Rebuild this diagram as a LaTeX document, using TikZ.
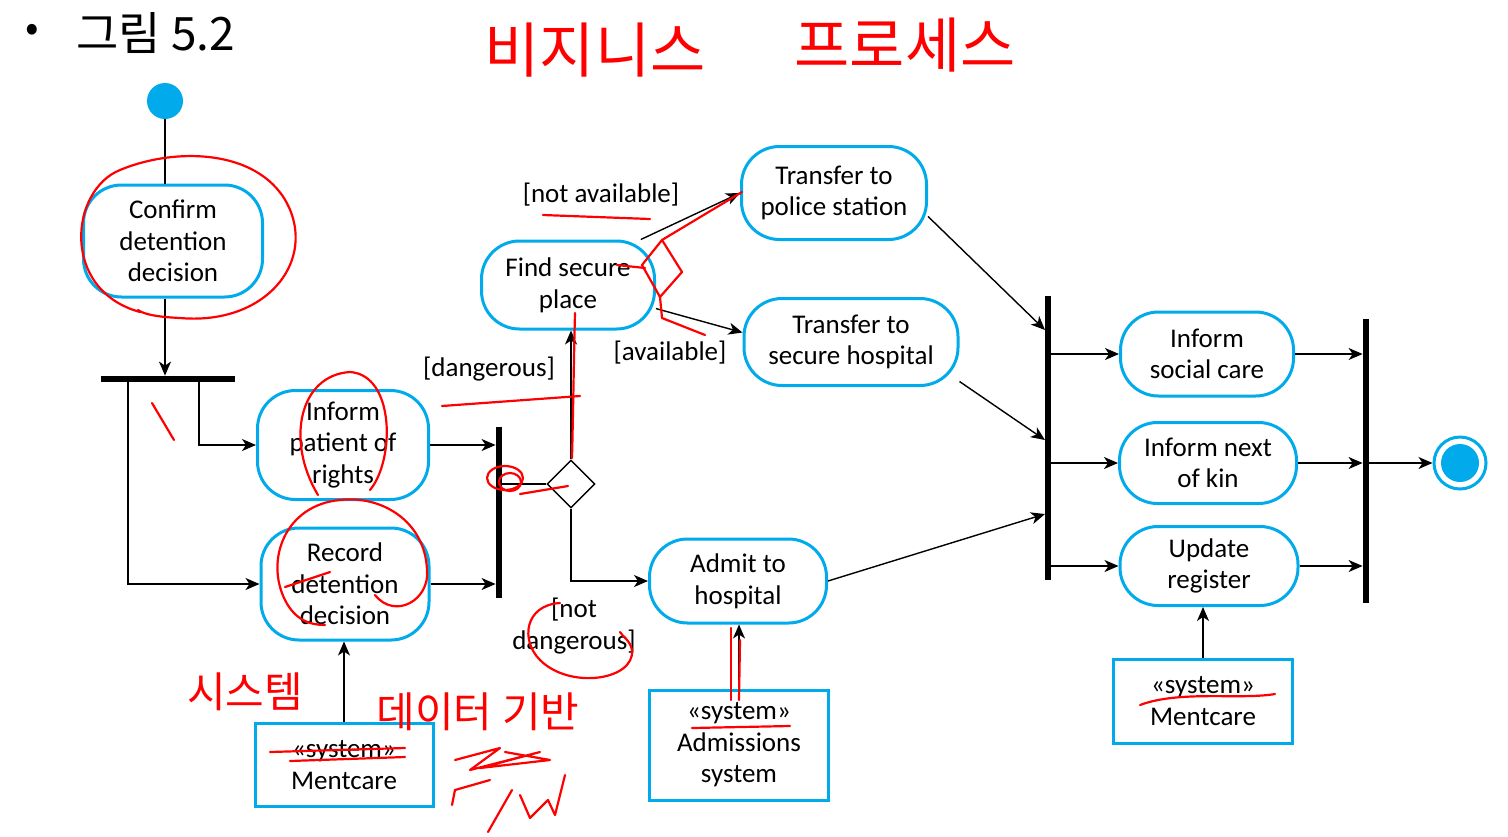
\documentclass[tikz,border=0pt]{standalone}
\usepackage{fontspec}
\usepackage{tikz}
\usetikzlibrary{arrows.meta,shapes.geometric}
\setmainfont{Carlito}
\newfontfamily\krfont{Noto Sans CJK KR}
\definecolor{umlblue}{RGB}{0,170,235}
\newcommand{\dfont}{\fontsize{13.5}{15.8}\selectfont}
\tikzset{
  act/.style={draw=umlblue,line width=1.5pt,rounded corners=19pt,align=center,
    inner sep=0pt,font=\dfont},
  sysbox/.style={draw=umlblue,line width=1.5pt,align=center,inner sep=0pt,font=\dfont},
  bar/.style={fill=black,inner sep=0pt},
  flow/.style={-{Stealth[length=7pt,width=6pt,inset=2pt]},line width=0.7pt},
  plain/.style={line width=0.7pt},
  guard/.style={inner sep=0pt,align=center,font=\dfont},
  pen/.style={red,line width=1.1pt,line cap=round,line join=round},
  hand/.style={red,inner sep=0pt,font=\krfont\fontsize{21}{24}\selectfont},
}
\begin{document}
\begin{tikzpicture}[x=.5pt,y=-.5pt]
\path[use as bounding box] (0,0) rectangle (1508,836);
\path[fill=white] (0,0) rectangle (1508,836);
% title
\node[inner sep=0pt,font=\krfont\fontsize{20}{24}\selectfont] (bullet) at (32,33) {•};
\node[inner sep=0pt,anchor=west,font=\krfont\fontsize{23}{27}\selectfont] (title) at (76,33) {그림 5.2};
% activities
\node[circle,fill=umlblue,inner sep=0pt,minimum size=18pt] (init) at (165,101) {};
\node[act,minimum width=89.5pt,minimum height=56pt] (confirm) at (173,241) {Confirm\\detention\\decision};
\node[bar,minimum width=67pt,minimum height=3pt] (fork) at (168,379) {};
\node[act,minimum width=85.5pt,minimum height=54.5pt] (inform) at (343,445) {Inform\\patient of\\rights};
\node[act,minimum width=84pt,minimum height=56pt] (record) at (345,584) {Record\\detention\\decision};
\node[sysbox,minimum width=89pt,minimum height=41.5pt] (ment1) at (344,765) {«system»\\Mentcare};
\node[bar,minimum width=3pt,minimum height=85.5pt] (join1) at (499,512) {};
\node[diamond,draw,line width=0.7pt,inner sep=0pt,minimum width=24pt,minimum height=24pt] (dec) at (571,484) {};
\node[act,minimum width=86.5pt,minimum height=44pt] (find) at (568,285) {Find secure\\place};
\node[act,minimum width=92.5pt,minimum height=46.5pt] (police) at (834,193) {Transfer to\\police station};
\node[act,minimum width=107pt,minimum height=43.5pt] (hosp) at (851,342) {Transfer to\\secure hospital};
\node[act,minimum width=88.5pt,minimum height=42pt] (admit) at (738,581) {Admit to\\hospital};
\node[sysbox,minimum width=89.5pt,minimum height=55pt] (adm) at (739,745) {«system»\\Admissions\\system};
\node[bar,minimum width=3pt,minimum height=142pt] (fork2) at (1048,438) {};
\node[act,minimum width=86.5pt,minimum height=42pt] (social) at (1207,354) {Inform\\social care};
\node[act,minimum width=88.5pt,minimum height=40.5pt] (kin) at (1208,463) {Inform next\\of kin};
\node[act,minimum width=89pt,minimum height=39.5pt] (update) at (1209,566) {Update\\register};
\node[sysbox,minimum width=89.5pt,minimum height=42pt] (ment2) at (1203,701) {«system»\\Mentcare};
\node[bar,minimum width=3pt,minimum height=142pt] (join2) at (1366,461) {};
\node[circle,draw=umlblue,line width=1.5pt,inner sep=0pt,minimum size=26pt] (final) at (1460,463) {};
\node[circle,fill=umlblue,inner sep=0pt,minimum size=19pt] (finalin) at (final) {};
% guards
\node[guard] (gnotav) at (601,195) {[not available]};
\node[guard] (gdang) at (489,369) {[dangerous]};
\node[guard] (gav) at (670,353) {[available]};
\node[guard] (gnotdang) at (574,626) {[not\\dangerous]};
% free ends
\coordinate (fa) at (199,382);
\coordinate (fb) at (128,382);
\coordinate (j1) at (1045,330);
\coordinate (j2) at (1045,440);
\coordinate (j3) at (1045,514);
% flows
\draw[plain] (init.south) -- (init.south |- confirm.north);
\draw[flow] (init.south |- confirm.south) -- (init.south |- fork.north);
\draw[flow] (fa) |- (inform.west);
\draw[flow] (fb) |- (record.west);
\draw[flow] (inform.east) -- (inform.east -| join1.west);
\draw[flow] (record.east) -- (record.east -| join1.west);
\draw[plain] (join1.east |- dec.west) -- (dec.west);
\draw[flow] (dec.north) -- (dec.north |- find.south);
\draw[flow] (dec.south) |- (admit.west);
\draw[flow] (find.32) -- (police.west);
\draw[flow] (find.-15) -- (hosp.175);
\draw[flow] (police.-14) -- (j1);
\draw[flow] (hosp.-20) -- (j2);
\draw[flow] (admit.east) -- (j3);
\draw[flow] (fork2.east |- social.west) -- (social.west);
\draw[flow] (fork2.east |- kin.west) -- (kin.west);
\draw[flow] (fork2.east |- update.west) -- (update.west);
\draw[flow] (social.east) -- (social.east -| join2.west);
\draw[flow] (kin.east) -- (kin.east -| join2.west);
\draw[flow] (update.east) -- (update.east -| join2.west);
\draw[flow] (join2.east |- final.west) -- (final.west);
\draw[flow] (ment1.north) -- (ment1.north |- record.south);
\draw[flow] (adm.north) -- (adm.north |- admit.south);
\draw[flow] (ment2.north) -- (ment2.north |- update.south);
% red pen notes
\node[hand,font=\krfont\fontsize{30}{34}\selectfont] (note1) at (595,50) {비지니스};
\node[hand,font=\krfont\fontsize{30}{34}\selectfont] (note2) at (905,45) {프로세스};
\node[hand] (note3) at (245,692) {시스템};
\node[hand] (note4) at (478,712) {데이터 기반};
\draw[pen] (140,312) .. controls (60,290) and (70,190) .. (120,170) .. controls (180,145) and (270,150) .. (292,215) .. controls (310,270) and (260,325) .. (180,318) .. controls (160,317) and (145,315) .. (138,310);
\draw[pen] (152,403) -- (174,440);
\draw[pen] (318,495) .. controls (285,440) and (300,375) .. (350,372) .. controls (395,375) and (395,460) .. (370,490);
\draw[pen] (375,595) .. controls (395,620) and (430,600) .. (427,570) .. controls (425,520) and (380,495) .. (340,500) .. controls (285,505) and (265,560) .. (285,600) .. controls (295,620) and (310,625) .. (325,625);
\draw[pen] (285,587) -- (330,572);
\draw[pen] (505,478) ellipse [x radius=18,y radius=12];
\draw[pen] (510,482) ellipse [x radius=11,y radius=9];
\draw[pen] (520,494) -- (568,486);
\draw[pen] (572,458) .. controls (573,420) and (574,350) .. (575,313);
\draw[pen] (442,406) -- (580,396);
\draw[pen] (543,215) -- (650,219);
\draw[pen] (617,265) -- (645,268);
\draw[pen] (662,240) -- (682,272) -- (660,297) -- (642,265) -- cycle;
\draw[pen] (662,240) -- (742,192);
\draw[pen] (660,297) -- (662,318) -- (705,335);
\draw[pen] (560,603) .. controls (525,605) and (520,640) .. (540,660) .. controls (570,690) and (635,680) .. (632,650) .. controls (630,640) and (622,636) .. (620,632);
\draw[pen] (270,752) -- (405,748);
\draw[pen] (290,761) -- (405,757);
\draw[pen] (692,728) -- (790,726);
\draw[pen] (731,628) -- (731,700);
\draw[pen] (740,640) -- (739,700);
\draw[pen] (1140,705) .. controls (1180,690) and (1240,700) .. (1275,694);
\draw[pen] (455,760) -- (500,748) -- (470,770) -- (540,752) -- (480,768) -- (550,760) -- (505,752);
\draw[pen] (452,805) -- (455,790) -- (490,780);
\draw[pen] (488,832) -- (512,790);
\draw[pen] (520,795) -- (530,818) -- (548,800) -- (555,815) -- (565,775);
\end{tikzpicture}
\end{document}
